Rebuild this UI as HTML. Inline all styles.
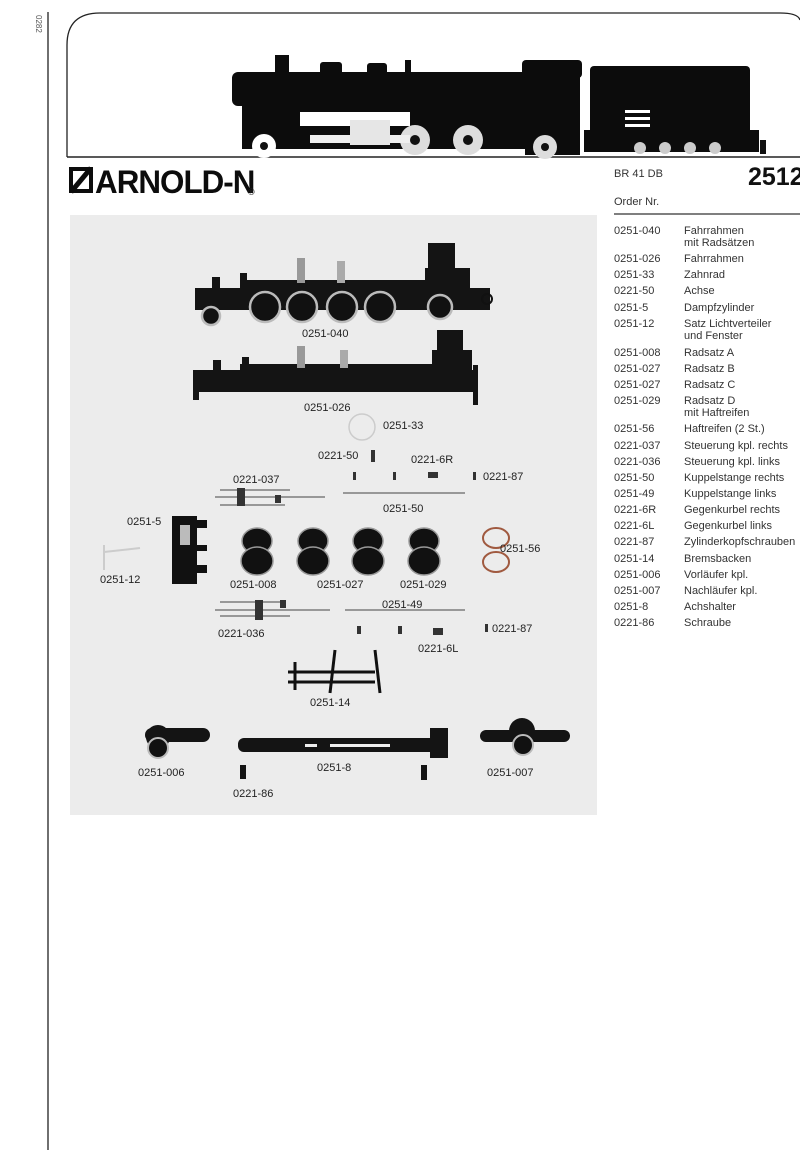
<!DOCTYPE html>
<html><head><meta charset="utf-8"><style>
html,body{margin:0;padding:0;background:#fff;}
body{width:800px;height:1168px;overflow:hidden;position:relative;font-family:"Liberation Sans",sans-serif;}
svg{position:absolute;left:0;top:0;}
.l{font-size:11px;fill:#222;}
.t{font-size:11px;fill:#333;}
</style></head><body>
<svg width="800" height="1168" viewBox="0 0 800 1168" xmlns="http://www.w3.org/2000/svg">
<!-- left margin line -->
<line x1="48" y1="12" x2="48" y2="1150" stroke="#222" stroke-width="1.3"/>
<text x="36" y="15" font-size="8" fill="#555" transform="rotate(90 36 15)">0282</text>
<!-- header frame -->
<path d="M67 157 V45 Q67 13 100 13 H780 Q798 13 800 20" fill="none" stroke="#222" stroke-width="1.3"/>
<line x1="67" y1="157" x2="800" y2="157" stroke="#222" stroke-width="1.5"/>
<!-- locomotive -->
<g fill="#0c0c0c">
<rect x="232" y="72" width="300" height="34" rx="6"/>
<rect x="275" y="55" width="14" height="20"/>
<rect x="320" y="62" width="22" height="14" rx="3"/>
<rect x="367" y="63" width="20" height="12" rx="3"/>
<rect x="405" y="60" width="6" height="16"/>
<rect x="522" y="60" width="60" height="18" rx="4"/>
<rect x="525" y="70" width="55" height="85"/>
<rect x="242" y="104" width="290" height="45"/>
<rect x="590" y="66" width="160" height="86" rx="4"/>
<rect x="584" y="130" width="175" height="22"/>
</g>
<g fill="#fff">
<rect x="300" y="112" width="110" height="14"/>
<circle cx="264" cy="146" r="12"/><circle cx="264" cy="146" r="4" fill="#111"/>
<circle cx="415" cy="140" r="15" fill="#ddd"/><circle cx="415" cy="140" r="5" fill="#111"/>
<circle cx="468" cy="140" r="15" fill="#ddd"/><circle cx="468" cy="140" r="5" fill="#111"/>
<circle cx="545" cy="147" r="12" fill="#ddd"/><circle cx="545" cy="147" r="4" fill="#111"/>
<rect x="310" y="135" width="100" height="8" fill="#eee"/>
<rect x="350" y="120" width="40" height="25" fill="#e6e6e6"/>
<rect x="625" y="110" width="25" height="3"/><rect x="625" y="117" width="25" height="3"/><rect x="625" y="124" width="25" height="3"/>
<circle cx="640" cy="148" r="6" fill="#ccc"/><circle cx="665" cy="148" r="6" fill="#ccc"/><circle cx="690" cy="148" r="6" fill="#ccc"/><circle cx="715" cy="148" r="6" fill="#ccc"/>
</g>
<rect x="760" y="140" width="6" height="14" fill="#111"/>
<!-- logo -->
<rect x="69" y="167" width="24" height="26" fill="#0c0c0c"/>
<rect x="73" y="171" width="16" height="18" fill="#fff"/>
<line x1="71" y1="192" x2="91" y2="168" stroke="#0c0c0c" stroke-width="5"/>
<text x="97" y="193" font-size="32" font-weight="bold" fill="#0c0c0c" transform="scale(0.98 1)" style="font-family:'Liberation Sans Narrow','Liberation Sans',sans-serif;letter-spacing:-1px">ARNOLD-N</text>
<text x="248" y="195" font-size="9" fill="#222">®</text>
<text x="614" y="177" font-size="11" fill="#333">BR 41 DB</text>
<text x="748" y="185" font-size="25" font-weight="bold" fill="#111">2512</text>
<text x="614" y="205" font-size="11" fill="#333">Order Nr.</text>
<line x1="614" y1="214" x2="800" y2="214" stroke="#333" stroke-width="1.2"/>
<!-- table -->
<g class="t">
<text x="614" y="234">0251-040</text><text x="684" y="234">Fahrrahmen</text><text x="684" y="246">mit Radsätzen</text>
<text x="614" y="262">0251-026</text><text x="684" y="262">Fahrrahmen</text>
<text x="614" y="278">0251-33</text><text x="684" y="278">Zahnrad</text>
<text x="614" y="294">0221-50</text><text x="684" y="294">Achse</text>
<text x="614" y="311">0251-5</text><text x="684" y="311">Dampfzylinder</text>
<text x="614" y="327">0251-12</text><text x="684" y="327">Satz Lichtverteiler</text><text x="684" y="339">und Fenster</text>
<text x="614" y="356">0251-008</text><text x="684" y="356">Radsatz A</text>
<text x="614" y="372">0251-027</text><text x="684" y="372">Radsatz B</text>
<text x="614" y="388">0251-027</text><text x="684" y="388">Radsatz C</text>
<text x="614" y="404">0251-029</text><text x="684" y="404">Radsatz D</text><text x="684" y="416">mit Haftreifen</text>
<text x="614" y="432">0251-56</text><text x="684" y="432">Haftreifen (2 St.)</text>
<text x="614" y="449">0221-037</text><text x="684" y="449">Steuerung kpl. rechts</text>
<text x="614" y="465">0221-036</text><text x="684" y="465">Steuerung kpl. links</text>
<text x="614" y="481">0251-50</text><text x="684" y="481">Kuppelstange rechts</text>
<text x="614" y="497">0251-49</text><text x="684" y="497">Kuppelstange links</text>
<text x="614" y="513">0221-6R</text><text x="684" y="513">Gegenkurbel rechts</text>
<text x="614" y="529">0221-6L</text><text x="684" y="529">Gegenkurbel links</text>
<text x="614" y="545">0221-87</text><text x="684" y="545">Zylinderkopfschrauben</text>
<text x="614" y="562">0251-14</text><text x="684" y="562">Bremsbacken</text>
<text x="614" y="578">0251-006</text><text x="684" y="578">Vorläufer kpl.</text>
<text x="614" y="594">0251-007</text><text x="684" y="594">Nachläufer kpl.</text>
<text x="614" y="610">0251-8</text><text x="684" y="610">Achshalter</text>
<text x="614" y="626">0221-86</text><text x="684" y="626">Schraube</text>
</g>
<!-- parts panel -->
<rect x="70" y="215" width="527" height="600" fill="#ececec"/>
<!-- chassis 1 -->
<g fill="#141414">
<rect x="195" y="288" width="295" height="22"/>
<rect x="240" y="280" width="200" height="12"/>
<rect x="428" y="243" width="27" height="25"/>
<rect x="425" y="268" width="45" height="30"/>
<rect x="212" y="277" width="8" height="12"/><rect x="240" y="273" width="7" height="14"/>
</g>
<rect x="297" y="258" width="8" height="25" fill="#999"/>
<rect x="337" y="261" width="8" height="22" fill="#aaa"/>
<g stroke="#bbb" stroke-width="2.5" fill="#111">
<circle cx="211" cy="316" r="9"/><circle cx="265" cy="307" r="15"/><circle cx="302" cy="307" r="15"/><circle cx="342" cy="307" r="15"/><circle cx="380" cy="307" r="15"/><circle cx="440" cy="307" r="12"/>
</g>
<circle cx="487" cy="299" r="5" fill="none" stroke="#111" stroke-width="2"/>
<!-- chassis 2 -->
<g fill="#141414">
<rect x="193" y="370" width="282" height="22"/>
<rect x="240" y="364" width="200" height="10"/>
<rect x="437" y="330" width="26" height="22"/>
<rect x="432" y="350" width="40" height="30"/>
<rect x="213" y="360" width="8" height="12"/><rect x="242" y="357" width="7" height="14"/>
<rect x="193" y="385" width="6" height="15"/><rect x="473" y="365" width="5" height="40"/>
</g>
<rect x="297" y="346" width="8" height="22" fill="#999"/><rect x="340" y="350" width="8" height="18" fill="#aaa"/>
<circle cx="362" cy="427" r="13" fill="none" stroke="#ccc" stroke-width="1.5"/>
<!-- small parts -->
<g fill="#333">
<rect x="371" y="450" width="4" height="12"/>
<rect x="353" y="472" width="3" height="8"/><rect x="393" y="472" width="3" height="8"/><rect x="473" y="472" width="3" height="8"/>
<rect x="428" y="472" width="10" height="6"/>
<rect x="357" y="626" width="4" height="8"/><rect x="398" y="626" width="4" height="8"/><rect x="485" y="624" width="3" height="8"/>
<rect x="433" y="628" width="10" height="7"/>
</g>
<g stroke="#666" stroke-width="1.2" fill="none">
<line x1="343" y1="493" x2="465" y2="493"/>
<line x1="345" y1="610" x2="465" y2="610"/>
<line x1="215" y1="497" x2="325" y2="497"/><line x1="220" y1="505" x2="285" y2="505"/><line x1="220" y1="490" x2="290" y2="490"/>
<line x1="215" y1="610" x2="330" y2="610"/><line x1="220" y1="616" x2="290" y2="616"/><line x1="220" y1="602" x2="285" y2="602"/>
</g>
<g fill="#333"><rect x="237" y="488" width="8" height="18"/><rect x="255" y="600" width="8" height="20"/><rect x="275" y="495" width="6" height="8"/><rect x="280" y="600" width="6" height="8"/></g>
<!-- cylinder block -->
<g fill="#111"><rect x="172" y="516" width="25" height="68"/><rect x="195" y="520" width="12" height="8"/><rect x="195" y="545" width="12" height="6"/><rect x="195" y="565" width="12" height="8"/></g>
<rect x="180" y="525" width="10" height="20" fill="#bbb"/>
<line x1="104" y1="545" x2="104" y2="570" stroke="#ccc" stroke-width="2"/><line x1="104" y1="552" x2="140" y2="548" stroke="#ccc" stroke-width="2"/>
<!-- wheelsets -->
<g fill="#111" stroke="#999" stroke-width="1.5">
<ellipse cx="257" cy="541" rx="15" ry="13"/><ellipse cx="257" cy="561" rx="16" ry="14"/>
<ellipse cx="313" cy="541" rx="15" ry="13"/><ellipse cx="313" cy="561" rx="16" ry="14"/>
<ellipse cx="368" cy="541" rx="15" ry="13"/><ellipse cx="368" cy="561" rx="16" ry="14"/>
<ellipse cx="424" cy="541" rx="15" ry="13"/><ellipse cx="424" cy="561" rx="16" ry="14"/>
</g>
<ellipse cx="496" cy="538" rx="13" ry="10" fill="none" stroke="#a05a40" stroke-width="2"/>
<ellipse cx="496" cy="562" rx="13" ry="10" fill="none" stroke="#a05a40" stroke-width="2"/>
<!-- brake -->
<g stroke="#111" stroke-width="3" fill="none">
<line x1="288" y1="672" x2="375" y2="672"/><line x1="288" y1="682" x2="375" y2="682"/>
<line x1="295" y1="662" x2="295" y2="690"/><line x1="335" y1="650" x2="330" y2="693"/><line x1="375" y1="650" x2="380" y2="693"/>
</g>
<!-- bottom parts -->
<g fill="#141414">
<rect x="145" y="728" width="65" height="14" rx="7"/><circle cx="158" cy="737" r="12"/>
<rect x="238" y="738" width="210" height="14" rx="6"/><rect x="430" y="728" width="18" height="30"/>
<rect x="480" y="730" width="90" height="12" rx="6"/><circle cx="522" cy="731" r="13"/>
<rect x="240" y="765" width="6" height="14"/><rect x="421" y="765" width="6" height="15"/>
</g>
<circle cx="158" cy="748" r="10" fill="#111" stroke="#bbb" stroke-width="2"/>
<circle cx="523" cy="745" r="10" fill="#111" stroke="#bbb" stroke-width="2"/>
<g fill="#eee"><rect x="305" y="744" width="12" height="3"/><rect x="330" y="744" width="60" height="3"/></g>
<!-- labels -->
<g class="l">
<text x="302" y="337">0251-040</text>
<text x="304" y="411">0251-026</text>
<text x="383" y="429">0251-33</text>
<text x="318" y="459">0221-50</text>
<text x="411" y="463">0221-6R</text>
<text x="483" y="480">0221-87</text>
<text x="233" y="483">0221-037</text>
<text x="383" y="512">0251-50</text>
<text x="127" y="525">0251-5</text>
<text x="500" y="552">0251-56</text>
<text x="100" y="583">0251-12</text>
<text x="230" y="588">0251-008</text>
<text x="317" y="588">0251-027</text>
<text x="400" y="588">0251-029</text>
<text x="382" y="608">0251-49</text>
<text x="218" y="637">0221-036</text>
<text x="492" y="632">0221-87</text>
<text x="418" y="652">0221-6L</text>
<text x="310" y="706">0251-14</text>
<text x="138" y="776">0251-006</text>
<text x="317" y="771">0251-8</text>
<text x="487" y="776">0251-007</text>
<text x="233" y="797">0221-86</text>
</g>
</svg>
</body></html>
